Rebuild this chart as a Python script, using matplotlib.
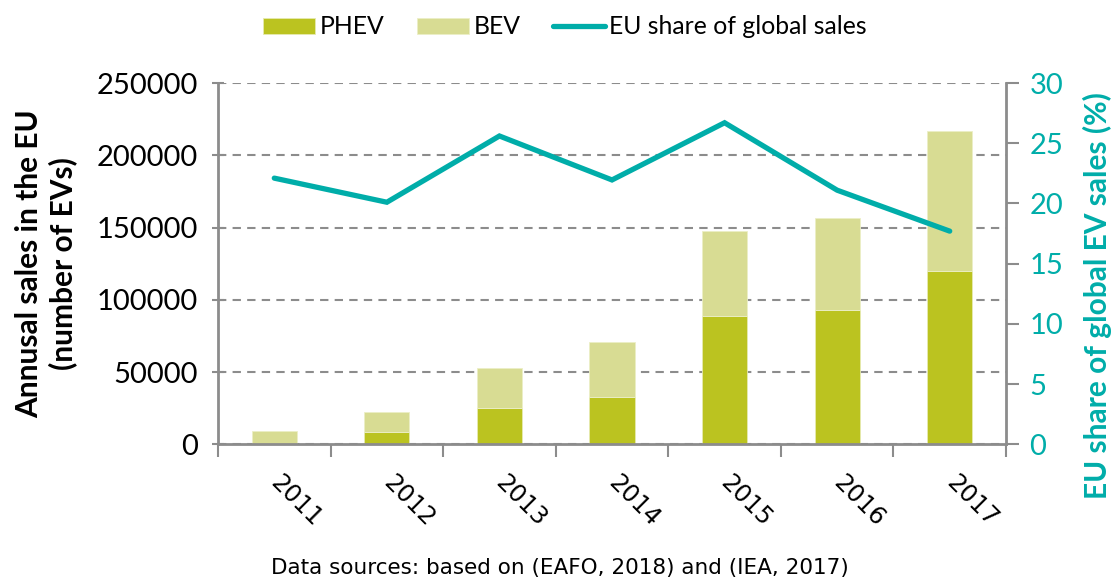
import matplotlib.pyplot as plt
import numpy as np
#
#--data
years=['2011','2012','2013','2014','2015','2016','2017']
phev=[0,8300,25300,32900,89000,93100,119900]
bev=[9200,14250,27500,37700,58600,63700,96900]
eu_share=[22.1,20.1,25.6,21.95,26.7,21.1,17.7]
#
c_phev='#BBC320'
c_bev='#D8DC93'
c_teal='#00ADA9'
c_grey='#8C8C8C'
#
fig=plt.figure(figsize=(11.15,5.8),dpi=100)
ax=fig.add_axes([218/1115,1-444.3/580,(1006-218)/1115,(444.3-83)/580])
x=np.arange(len(years))
#--stacked bars
ax.bar(x,phev,width=0.4,color=c_phev,edgecolor='#E6EAB0',linewidth=0.6,label='PHEV',zorder=2)
ax.bar(x,bev,width=0.4,bottom=phev,color=c_bev,edgecolor='#ECEFC6',linewidth=0.6,label='BEV',zorder=2)
ax.set_xlim(-0.5,len(years)-0.5)
ax.set_ylim(0,250000)
ax.set_yticks(np.arange(0,250001,50000))
ax.yaxis.grid(True,linestyle=(0,(4,3)),color=c_grey,linewidth=1.5)
ax.set_axisbelow(True)
ax.set_xticks(x)
ax.set_xticklabels(years,rotation=-45,ha='left',va='center',rotation_mode='anchor',
                   fontsize=17.5,family='DejaVu Sans')
ax.tick_params(axis='x',which='major',length=0,pad=25)
ax.set_xticks(np.arange(-0.5,len(years),1),minor=True)
ax.tick_params(axis='x',which='minor',length=9,width=1.5,color=c_grey,direction='out')
ax.tick_params(axis='y',length=9,width=1.5,color=c_grey,direction='inout',labelsize=21,pad=10)
for lab in ax.get_yticklabels():
    lab.set_family('Lato')
for s in ['top','right']:
    ax.spines[s].set_visible(False)
for s in ['left','bottom']:
    ax.spines[s].set_color(c_grey)
    ax.spines[s].set_linewidth(2)
ax.set_ylabel('Annusal sales in the EU\n(number of EVs)',fontsize=21.5,fontweight='bold',
              family='Lato',linespacing=1.22,labelpad=14)
#
#--EU share line on secondary axis
ax2=ax.twinx()
ax2.plot(x,eu_share,color=c_teal,linewidth=3.8,solid_capstyle='round',solid_joinstyle='miter',
         label='EU share of global sales',zorder=3)
ax2.set_ylim(0,30)
ax2.set_yticks(np.arange(0,31,5))
ax2.tick_params(axis='y',length=9,width=1.5,color=c_grey,direction='out',labelsize=21,
                labelcolor=c_teal,pad=8)
for lab in ax2.get_yticklabels():
    lab.set_family('Lato')
for s in ['top','left','bottom']:
    ax2.spines[s].set_visible(False)
ax2.spines['right'].set_color(c_grey)
ax2.spines['right'].set_linewidth(2)
ax2.set_ylabel('EU share of global EV sales (%)',fontsize=21.5,fontweight='bold',family='Lato',
               color=c_teal)
ax2.yaxis.set_label_coords((1083-218)/788,0.413)
#
#--legend across the top
h1,l1=ax.get_legend_handles_labels()
h2,l2=ax2.get_legend_handles_labels()
fig.legend(h1+h2,l1+l2,ncol=3,loc='center',bbox_to_anchor=(565/1115,1-27/580),frameon=False,
           prop={'family':'Lato','size':17.8},handlelength=2.1,handleheight=0.6,columnspacing=1.3,
           handletextpad=0.2)
#
fig.text(560/1115,1-568/580,'Data sources: based on (EAFO, 2018) and (IEA, 2017)',
         ha='center',va='center',fontsize=15.5,family='DejaVu Sans')
fig.savefig('out.png',dpi=100)
